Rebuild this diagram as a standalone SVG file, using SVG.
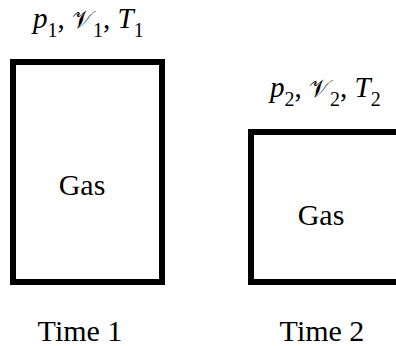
<svg xmlns="http://www.w3.org/2000/svg" width="396" height="346" viewBox="0 0 396 346">
<rect width="396" height="346" fill="#fff"/>
<g id="state1">
<rect fill="#fff" stroke="#000" stroke-width="6" x="13" y="62" width="149" height="220"/>
<text font-family="'Liberation Serif'" font-size="30" x="82" y="195" text-anchor="middle">Gas</text>
<text font-family="'Liberation Serif'" font-size="29" x="33" y="28"><tspan font-style="italic">p</tspan><tspan font-size="20" dy="9">1</tspan><tspan dy="-9">, </tspan><tspan font-family="'DejaVu Serif'" font-size="25">&#x1D4B1;</tspan><tspan font-size="20" dy="9">1</tspan><tspan dy="-9">, </tspan><tspan font-style="italic">T</tspan><tspan font-size="20" dy="9">1</tspan></text>
<text font-family="'Liberation Serif'" font-size="30" x="80" y="341" text-anchor="middle">Time 1</text>
</g>
<g id="state2">
<rect fill="#fff" stroke="#000" stroke-width="6" x="251" y="132" width="170" height="150"/>
<text font-family="'Liberation Serif'" font-size="30" x="321" y="225" text-anchor="middle">Gas</text>
<text font-family="'Liberation Serif'" font-size="29" x="270" y="97"><tspan font-style="italic">p</tspan><tspan font-size="20" dy="9">2</tspan><tspan dy="-9">, </tspan><tspan font-family="'DejaVu Serif'" font-size="25">&#x1D4B1;</tspan><tspan font-size="20" dy="9">2</tspan><tspan dy="-9">, </tspan><tspan font-style="italic">T</tspan><tspan font-size="20" dy="9">2</tspan></text>
<text font-family="'Liberation Serif'" font-size="30" x="322" y="341" text-anchor="middle">Time 2</text>
</g>
<g id="connectors"/>
</svg>
